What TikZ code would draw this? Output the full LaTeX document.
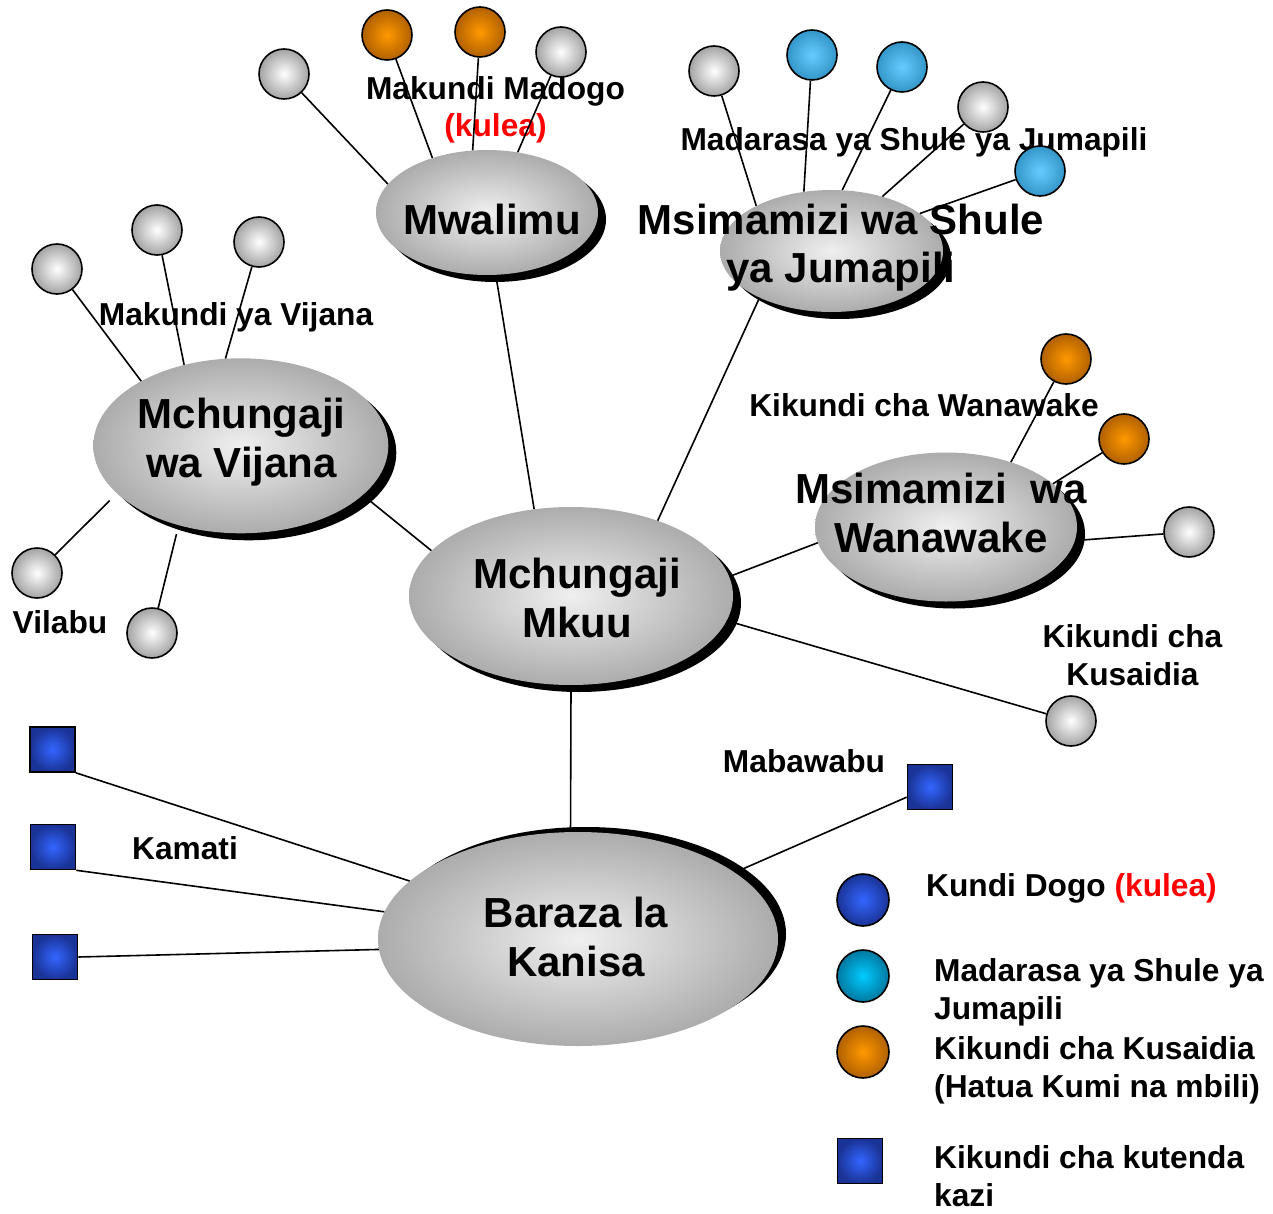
\documentclass[tikz,border=0pt]{standalone}
\usepackage{fontspec}
\setmainfont{Liberation Sans}
\usetikzlibrary{shapes.geometric,shadows}
\definecolor{ambin}{RGB}{255,153,0}
\definecolor{ambout}{RGB}{176,96,0}
\definecolor{skyin}{RGB}{102,204,255}
\definecolor{skyout}{RGB}{51,150,200}
\definecolor{cyin}{RGB}{0,204,255}
\definecolor{cyout}{RGB}{0,120,160}
\definecolor{bluin}{RGB}{51,102,255}
\definecolor{bluout}{RGB}{26,51,150}

\begin{document}
\begin{tikzpicture}[x=1pt,y=-1pt,
    oval/.style={ellipse,inner sep=0pt,inner color=gray!12,outer color=gray!65,
      drop shadow={shadow xshift=8pt,shadow yshift=#1,fill=black,opacity=1}},
    oval/.default=-7pt,
    ball/.style={circle,draw,line width=1.6pt,minimum size=50pt,inner sep=0pt},
    greyball/.style={ball,inner color=white,outer color=gray!72},
    amberball/.style={ball,inner color=ambin,outer color=ambout},
    skyball/.style={ball,inner color=skyin,outer color=skyout},
    cyanball/.style={ball,minimum size=52pt,inner color=cyin,outer color=cyout},
    blueball/.style={ball,minimum size=52pt,inner color=bluin,outer color=bluout},
    bluebox/.style={rectangle,draw,line width=1.6pt,minimum size=45pt,inner sep=0pt,inner color=bluin,outer color=bluout},
    big/.style={font=\fontsize{42}{48.5}\selectfont\bfseries,align=center,anchor=base},
    small/.style={font=\fontsize{31.7}{37.5}\selectfont\bfseries,align=center,anchor=base},
    key/.style={small,anchor=base west,align=left,inner sep=0pt},
    every edge/.style={draw,line width=1.6pt}]
  \useasboundingbox (0,0) rectangle (1273,1214);

  \node[oval,minimum width=222pt,minimum height=125pt] (mw) at (487,212.5) {};
  \node[oval,minimum width=223pt,minimum height=122pt] (sh) at (831.5,251) {};
  \node[oval,minimum width=295pt,minimum height=175pt] (vj) at (240.8,445.8) {};
  \node[oval,minimum width=324pt,minimum height=178pt] (mk) at (571,596) {};
  \node[oval,minimum width=262pt,minimum height=149pt] (ww) at (946,527) {};
  \node[oval=5pt,minimum width=400pt,minimum height=214pt] (bz) at (578,939) {};

  \node[big] (mwt) at (492,235) {Mwalimu};
  \node[big] (sht) at (841,283) {Msimamizi wa Shule\\ya Jumapili};
  \node[big] (vjt) at (241.5,477) {Mchungaji\\wa Vijana};
  \node[big] (mkt) at (577,637) {Mchungaji\\Mkuu};
  \node[big] (wwt) at (941,552) {Msimamizi~ wa\\Wanawake};
  \node[big] (bzt) at (576,976) {Baraza la\\Kanisa};

  \node[small] (mdt) at (495.5,136.7) {Makundi Madogo\\\textcolor{red}{(kulea)}};
  \node[small] (mst) at (914,150.7) {Madarasa ya Shule ya Jumapili};
  \node[small] (mvt) at (236,325) {Makundi ya Vijana};
  \node[small] (vlt) at (60,633) {Vilabu};
  \node[small] (kwt) at (924,416.7) {Kikundi cha Wanawake};
  \node[small] (kst) at (1132.5,685) {Kikundi cha\\Kusaidia};
  \node[small] (mbt) at (804,772) {Mabawabu};
  \node[small] (kmt) at (185,859) {Kamati};

  \node[greyball] (g1) at (284,74) {};
  \node[amberball] (o1) at (387,35) {};
  \node[amberball] (o2) at (480,32) {};
  \node[greyball] (g2) at (561,52) {};
  \node[greyball] (g3) at (714,71) {};
  \node[skyball] (c1) at (812,55) {};
  \node[skyball] (c2) at (902,67) {};
  \node[greyball] (g4) at (983,107) {};
  \node[skyball] (c3) at (1040,171) {};
  \node[greyball] (v1) at (57,269) {};
  \node[greyball] (v2) at (157,230) {};
  \node[greyball] (v3) at (259,242) {};
  \node[greyball] (v4) at (37,573) {};
  \node[greyball] (v5) at (152,633) {};
  \node[amberball] (o3) at (1066,359) {};
  \node[amberball] (o4) at (1124,439) {};
  \node[greyball] (g5) at (1189,532) {};
  \node[greyball] (g6) at (1071,721) {};
  \node[bluebox] (sq1) at (52.5,749.5) {};
  \node[bluebox] (sq2) at (53,847) {};
  \node[bluebox] (sq3) at (55,957) {};
  \node[bluebox] (sq4) at (930,787) {};

  \path (g1) edge (mw.164) (o1) edge (mw.135) (o2) edge (mw.103) (g2) edge (mw.63)
    (g3) edge (sh.149) (c1) edge (sh.115) (c2) edge (sh.80) (g4) edge (sh.47) (c3) edge (sh.23)
    (v1) edge (vj.147) (v2) edge (vj.125) (v3) edge (vj.100)
    (v4) edge[shorten >=10pt] (vj.201) (v5) edge[shorten >=9pt] (vj.232)
    (o3) edge (ww.45) (o4) edge (ww.22) (g5) edge (ww.-6)
    (mk.162) edge (vj.-22) (mk.113) edge (mw.-82) (mk.41) edge (sh.213)
    (mk.7) edge (ww.187) (mk.-9) edge (g6) (mk.-90) edge (bz.94)
    (sq1.south east) edge (bz.161) (sq2.south east) edge (bz.172)
    (sq3.east) edge (bz.183) (sq4) edge (bz.23);

  \node[blueball] (lc1) at (863,900) {};
  \node[cyanball] (lc2) at (863,976) {};
  \node[amberball,minimum size=52pt] (lc3) at (863,1052) {};
  \node[bluebox] (lsq) at (860,1161) {};
  \node[key] (l1t) at (926,896.7) {Kundi Dogo \textcolor{red}{(kulea)}};
  \node[key] (l2t) at (934,1019) {Madarasa ya Shule ya\\Jumapili};
  \node[key] (l3t) at (934,1097) {Kikundi cha Kusaidia\\(Hatua Kumi na mbili)};
  \node[key] (l4t) at (934,1206) {Kikundi cha kutenda\\kazi};
\end{tikzpicture}
\end{document}
